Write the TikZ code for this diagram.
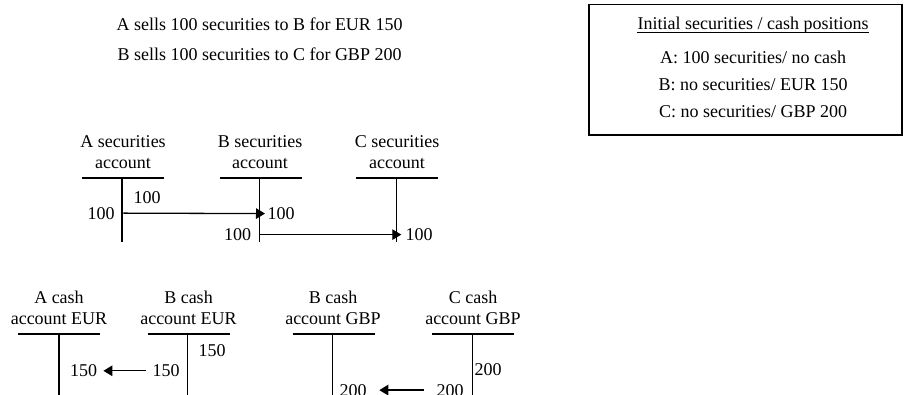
\documentclass[tikz,border=0pt]{standalone}
\usepackage{fontspec}
\setmainfont{Liberation Serif}
\usetikzlibrary{arrows.meta}
\tikzset{
  lbl/.style={font=\fontsize{18}{21}\selectfont, inner sep=0pt, anchor=base},
  tline/.style={line width=1.3pt},
  arr/.style={line width=1.3pt, -{Triangle[length=9pt,width=10.5pt]}},
  frame/.style={line width=1.2pt}
}
\begin{document}
\begin{tikzpicture}[x=1pt,y=-1pt]
\useasboundingbox (0,0) rectangle (904,394);
\clip (0,0) rectangle (904,394);
% top statements
\node[lbl] (t1) at (259.5,30) {A sells 100 securities to B for EUR 150};
\node[lbl] (t2) at (259.5,60) {B sells 100 securities to C for GBP 200};
% initial positions box
\draw[frame] (589,4.5) rectangle (902,135);
\node[lbl] (h) at (753,29.5) {Initial securities / cash positions};
\draw[line width=0.8pt] ([yshift=-3pt]h.base west) -- ([yshift=-3pt]h.base east);
\node[lbl] (p1) at (753,63) {A: 100 securities/ no cash};
\node[lbl] (p2) at (753,90) {B: no securities/ EUR 150};
\node[lbl] (p3) at (753,117.5) {C: no securities/ GBP 200};
% securities accounts
\node[lbl] (sA1) at (123,147) {A securities};
\node[lbl] (sA2) at (123,168) {account};
\node[lbl] (sB1) at (260,147) {B securities};
\node[lbl] (sB2) at (260,168) {account};
\node[lbl] (sC1) at (397,147) {C securities};
\node[lbl] (sC2) at (397,168) {account};
\draw[tline] (82,178) -- (164,178) (122,178) -- (122,242);
\draw[tline] (219.5,178) -- (301.5,178) (259.5,178) -- (259.5,242);
\draw[tline] (356,178) -- (438,178) (396.5,178) -- (396.5,242);
\node[lbl] (sa100) at (101,219) {100};
\node[lbl] (sa100t) at (147,203) {100};
\node[lbl] (sb100r) at (281,219.5) {100};
\node[lbl] (sb100l) at (237.5,240.5) {100};
\node[lbl] (sc100) at (419,240.5) {100};
\draw[arr, shorten <=8.7pt, shorten >=2.3pt] (sa100.east) -- (sb100r.west);
\draw[arr, shorten <=8.7pt, shorten >=4pt] (sb100l.east) -- (sc100.west);
% cash accounts
\node[lbl] (cA1) at (59,303) {A cash};
\node[lbl] (cA2) at (59,324) {account EUR};
\node[lbl] (cB1) at (188.5,303) {B cash};
\node[lbl] (cB2) at (188.5,324) {account EUR};
\node[lbl] (cBg1) at (333,303) {B cash};
\node[lbl] (cBg2) at (333,324) {account GBP};
\node[lbl] (cC1) at (473,303) {C cash};
\node[lbl] (cC2) at (473,324) {account GBP};
\draw[tline] (18,334) -- (100,334) (59,334) -- (59,400);
\draw[tline] (148,334) -- (230,334) (187.7,334) -- (187.7,400);
\draw[tline] (292.5,334) -- (374.5,334) (332.7,334) -- (332.7,400);
\draw[tline] (432.3,334) -- (514.3,334) (472.3,334) -- (472.3,400);
\node[lbl] (cb150t) at (212,356.7) {150};
\node[lbl] (cb150) at (166,376.7) {150};
\node[lbl] (ca150) at (83.7,376.7) {150};
\draw[arr, shorten <=6.7pt, shorten >=6pt] (cb150.west) -- (ca150.east);
\node[lbl] (cc200t) at (488,375.7) {200};
\node[lbl] (cc200) at (450,396) {200};
\node[lbl] (cb200) at (353,396) {200};
\draw[arr, shorten <=12.7pt, shorten >=12.6pt] (cc200.west) -- (cb200.east);
\end{tikzpicture}
\end{document}
